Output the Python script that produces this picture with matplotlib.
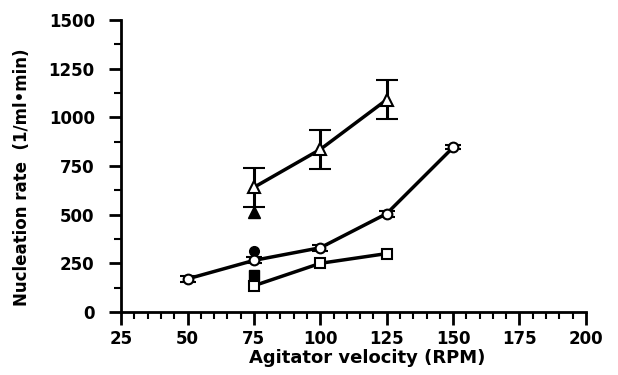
import matplotlib
matplotlib.use("Agg")
import matplotlib.pyplot as plt
from matplotlib.ticker import MultipleLocator

plt.rcParams['font.family'] = ['DejaVu Sans']
plt.rcParams['font.weight'] = 'bold'

# data
tri_x = [75, 100, 125]
tri_y = [640, 835, 1090]
tri_err = [100, 100, 100]

circ_x = [50, 75, 100, 125, 150]
circ_y = [170, 265, 330, 505, 845]
circ_err = [15, 15, 15, 15, 10]

sq_x = [75, 100, 125]
sq_y = [135, 250, 300]

filled_x = [75, 75, 75]
filled_tri_y = [515]
filled_circ_y = [312]
filled_sq_y = [192]

x_ticks = [25, 50, 75, 100, 125, 150, 175, 200]
y_ticks = [0, 250, 500, 750, 1000, 1250, 1500]

fig = plt.figure(figsize=(6.18, 3.75), dpi=100)
ax = fig.add_axes([0.196, 0.168, 0.752, 0.779])

lw = 2.5
ax.errorbar(tri_x, tri_y, yerr=tri_err, color='black', lw=lw, marker='^', ms=8,
            mfc='white', mec='black', mew=1.5, capsize=8, capthick=2.2, elinewidth=2.2, zorder=3)
ax.errorbar(circ_x, circ_y, yerr=circ_err, color='black', lw=lw, marker='o', ms=7,
            mfc='white', mec='black', mew=1.5, capsize=6, capthick=2.2, elinewidth=2.2, zorder=3)
ax.plot(sq_x, sq_y, color='black', lw=lw, marker='s', ms=7, mfc='white', mec='black', mew=1.5, zorder=3)

ax.plot(filled_x[:1], filled_tri_y, linestyle='none', marker='^', ms=8, color='black', zorder=2)
ax.plot(filled_x[1:2], filled_circ_y, linestyle='none', marker='o', ms=7, color='black', zorder=2)
ax.plot(filled_x[2:], filled_sq_y, linestyle='none', marker='s', ms=7, color='black', zorder=2)

ax.set_xlim(25, 200)
ax.set_ylim(0, 1500)
ax.set_xticks(x_ticks)
ax.set_yticks(y_ticks)
ax.xaxis.set_minor_locator(MultipleLocator(5))
ax.yaxis.set_minor_locator(MultipleLocator(125))
for s in ['top', 'right']:
    ax.spines[s].set_visible(False)
for s in ['left', 'bottom']:
    ax.spines[s].set_linewidth(2)
ax.tick_params(axis='both', which='major', length=9, width=2, labelsize=12)
ax.tick_params(axis='both', which='minor', length=5, width=1.5)
ax.tick_params(axis='x', pad=4)
ax.tick_params(axis='y', pad=10)
ax.set_xlabel('Agitator velocity (RPM)', fontsize=13, fontweight='bold')
ax.set_ylabel('Nucleation rate  (1/ml\u2022min)', fontsize=12, fontweight='bold')
ax.yaxis.set_label_coords(-0.195, 0.46)
ax.xaxis.set_label_coords(0.53, -0.125)
for a in ax.get_children():
    try:
        a.set_clip_on(False)
    except Exception:
        pass

fig.savefig('out.png', dpi=100)
